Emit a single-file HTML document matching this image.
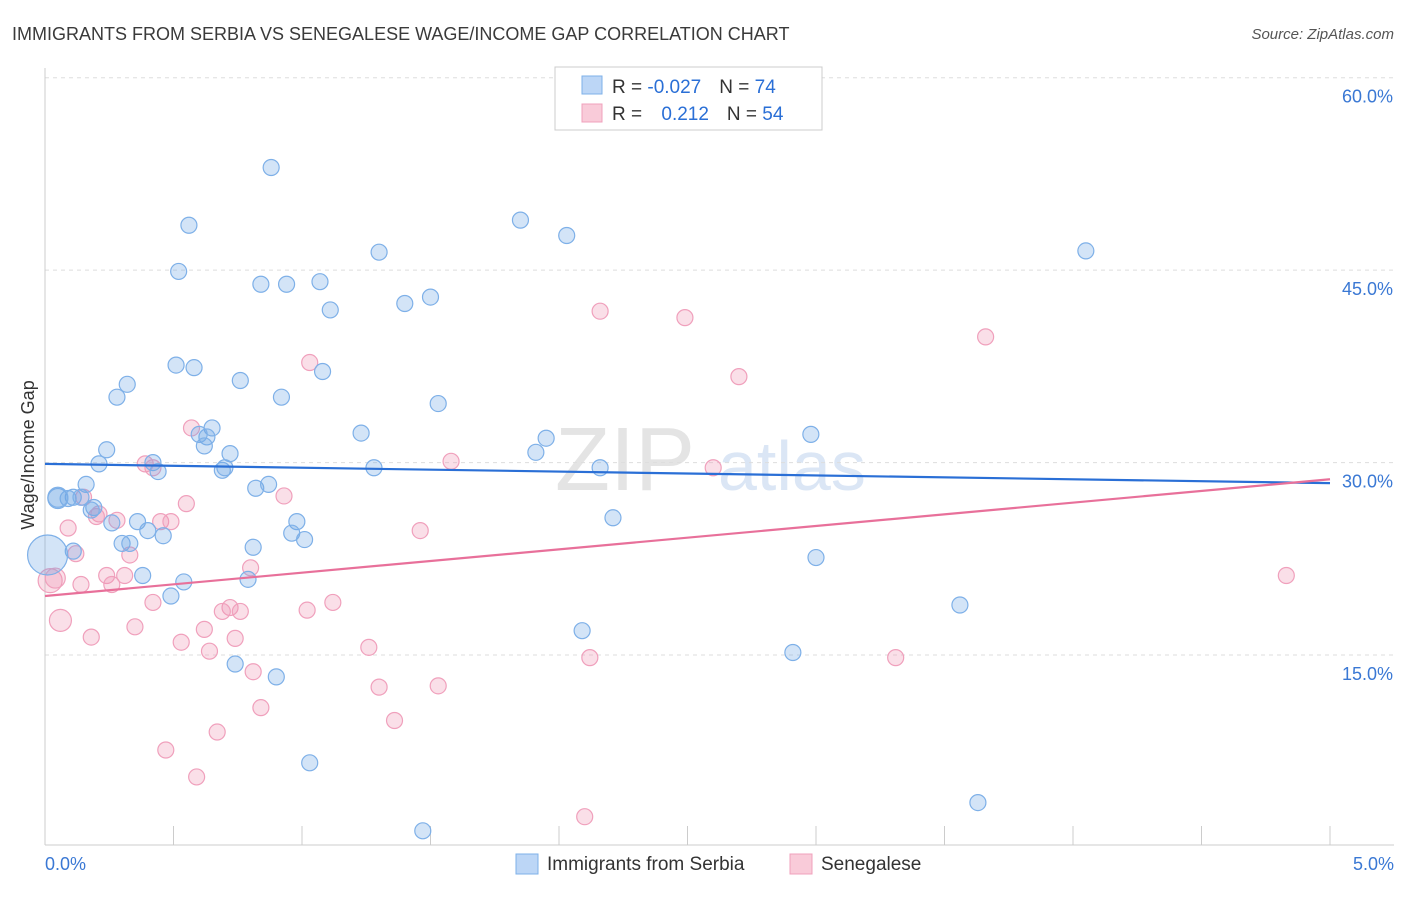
<!DOCTYPE html>
<html><head><meta charset="utf-8"><style>
body{margin:0;background:#fff;font-family:"Liberation Sans",sans-serif;}
svg text{font-family:"Liberation Sans",sans-serif;}
</style></head><body>
<svg width="1406" height="892" viewBox="0 0 1406 892">
<text x="12" y="40" font-size="18" fill="#3a3a3a">IMMIGRANTS FROM SERBIA VS SENEGALESE WAGE/INCOME GAP CORRELATION CHART</text>
<text x="1394" y="39" font-size="15" fill="#555" font-style="italic" text-anchor="end">Source: ZipAtlas.com</text>
<text x="555" y="490" font-size="90" fill="#e4e4e4" font-family="Liberation Serif">ZIP</text>
<text x="718" y="490" font-size="70" fill="#dbe6f5">atlas</text>
<g id="grid"></g>
<g id="axes"></g>
<g id="pts"></g>
<g id="trends"></g>
<text transform="translate(34,455) rotate(-90)" font-size="18" fill="#333" text-anchor="middle">Wage/Income Gap</text>
<g>
<rect x="555" y="67" width="267" height="63" fill="#fff" stroke="#ccc"/>
<rect x="582" y="76" width="20" height="18" fill="#bcd6f6" stroke="#7eb0e8"/>
<rect x="582" y="104" width="20" height="18" fill="#f9cbd9" stroke="#f0a0bc"/>
<text x="612" y="93" font-size="19" fill="#333">R = <tspan fill="#2a6fd6">-0.027</tspan><tspan dx="18">N = </tspan><tspan fill="#2a6fd6">74</tspan></text>
<text x="612" y="120" font-size="19" fill="#333">R = <tspan fill="#2a6fd6" dx="14">0.212</tspan><tspan dx="18">N = </tspan><tspan fill="#2a6fd6">54</tspan></text>
</g>
<g>
<rect x="516" y="854" width="22" height="20" fill="#bcd6f6" stroke="#7eb0e8"/>
<text x="547" y="870" font-size="19" fill="#333">Immigrants from Serbia</text>
<rect x="790" y="854" width="22" height="20" fill="#f9cbd9" stroke="#f0a0bc"/>
<text x="821" y="870" font-size="19" fill="#333">Senegalese</text>
</g>
</svg>
<script>
const xTicks=[0,0.5,1,1.5,2,2.5,3,3.5,4,4.5,5];
const yTicks=[15,30,45,60];
const yTickLabels=["15.0%","30.0%","45.0%","60.0%"];
const xTickLabels=["0.0%","5.0%"];
const serbiaX=[0.88,0.56,0.52,1.85,2.03,1.30,4.05,0.84,0.94,1.07,1.40,1.50,1.11,0.51,0.58,0.32,0.76,1.08,0.28,0.92,1.53,1.23,1.95,2.98,0.24,0.65,0.63,0.60,0.62,0.72,0.21,0.42,0.44,0.69,0.70,1.28,1.91,2.16,0.16,0.11,0.05,0.09,0.14,0.19,0.18,0.82,0.87,0.26,0.36,0.40,0.46,0.30,0.33,0.98,0.96,1.01,2.21,0.11,0.81,3.00,0.38,0.54,0.79,0.49,3.56,2.09,0.74,0.90,2.91,1.03,3.63,1.47,0.01,0.05];
const serbiaY=[53.0,48.5,44.9,48.9,47.7,46.4,46.5,43.9,43.9,44.1,42.4,42.9,41.9,37.6,37.4,36.1,36.4,37.1,35.1,35.1,34.6,32.3,31.9,32.2,31.0,32.7,32.0,32.2,31.3,30.7,29.9,30.0,29.3,29.4,29.6,29.6,30.8,29.6,28.3,27.3,27.2,27.2,27.3,26.5,26.3,28.0,28.3,25.3,25.4,24.7,24.3,23.7,23.7,25.4,24.5,24.0,25.7,23.1,23.4,22.6,21.2,20.7,20.9,19.6,18.9,16.9,14.3,13.3,15.2,6.6,3.5,1.3,22.8,27.3];
const serbiaSize=[8,8,8,8,8,8,8,8,8,8,8,8,8,8,8,8,8,8,8,8,8,8,8,8,8,8,8,8,8,8,8,8,8,8,8,8,8,8,8,8,10,8,8,8,8,8,8,8,8,8,8,8,8,8,8,8,8,8,8,8,8,8,8,8,8,8,8,8,8,8,8,8,20,10];
const senX=[2.16,2.49,3.66,2.70,1.03,0.57,1.58,2.60,0.39,0.42,0.15,0.55,0.93,0.21,0.20,0.28,0.45,0.49,0.09,0.12,0.33,1.46,0.24,0.31,0.26,0.14,0.02,0.04,4.83,0.80,0.42,1.12,1.02,0.72,0.69,0.76,0.06,0.35,0.18,0.62,0.53,0.74,0.64,1.26,2.12,3.31,0.81,1.30,1.53,0.84,1.36,0.67,0.47,0.59,2.10];
const senY=[41.8,41.3,39.8,36.7,37.8,32.7,30.1,29.6,29.9,29.6,27.3,26.8,27.4,26.0,25.8,25.5,25.4,25.4,24.9,22.9,22.8,24.7,21.2,21.2,20.5,20.5,20.8,21.0,21.2,21.8,19.1,19.1,18.5,18.7,18.4,18.4,17.7,17.2,16.4,17.0,16.0,16.3,15.3,15.6,14.8,14.8,13.7,12.5,12.6,10.9,9.9,9.0,7.6,5.5,2.4];
const senSize=[8,8,8,8,8,8,8,8,8,8,8,8,8,8,8,8,8,8,8,8,8,8,8,8,8,8,12,10,8,8,8,8,8,8,8,8,11,8,8,8,8,8,8,8,8,8,8,8,8,8,8,8,8,8,8];
const serbiaTrend=[29.9,28.4];
const senTrend=[19.6,28.7];
const X=v=>45+v/5*1285;
const Y=v=>847.5-v*12.83;
const NS="http://www.w3.org/2000/svg";
function mk(tag,attrs,parent){const e=document.createElementNS(NS,tag);for(const k in attrs)e.setAttribute(k,attrs[k]);parent.appendChild(e);return e;}
const grid=document.getElementById('grid'),axes=document.getElementById('axes'),pts=document.getElementById('pts'),tr=document.getElementById('trends');
yTicks.forEach((t,i)=>{
 const l=mk('line',{x1:45,x2:1394,y1:Y(t),y2:Y(t),stroke:'#ddd','stroke-dasharray':'4,4'},grid);
 
 
 const tx=mk('text',{x:1393,y:Y(t)+25,'font-size':18,fill:'#3a78d4','text-anchor':'end'},axes);
 tx.textContent=yTickLabels[i];
 
 
});
const ax=mk('line',{x1:45,x2:45,y1:68,y2:845,stroke:'#ccc'},axes);


const bx=mk('line',{x1:45,x2:1394,y1:845,y2:845,stroke:'#ccc'},axes);


xTicks.forEach(t=>{
 const l=mk('line',{x1:X(t),x2:X(t),y1:826,y2:845,stroke:'#ccc'},axes);
 
 
});
const xl0=mk('text',{x:45,y:870,'font-size':18,fill:'#3a78d4'},axes);
xl0.textContent=xTickLabels[0];


const xl1=mk('text',{x:1394,y:870,'font-size':18,fill:'#3a78d4','text-anchor':'end'},axes);
xl1.textContent=xTickLabels[1];


senX.forEach((v,i)=>{
 const c=mk('circle',{cx:X(v),cy:Y(senY[i]),r:senSize[i],fill:'rgba(240,150,180,0.3)',stroke:'#f0a0bc','stroke-width':1.2},pts);
 
 
});
serbiaX.forEach((v,i)=>{
 const c=mk('circle',{cx:X(v),cy:Y(serbiaY[i]),r:serbiaSize[i],fill:'rgba(110,165,230,0.3)',stroke:'#7eb0e8','stroke-width':1.2},pts);
 
 
});
const t1=mk('line',{x1:X(0),x2:X(5),y1:Y(serbiaTrend[0]),y2:Y(serbiaTrend[1]),stroke:'#2a6fd6','stroke-width':2.2},tr);


const t2=mk('line',{x1:X(0),x2:X(5),y1:Y(senTrend[0]),y2:Y(senTrend[1]),stroke:'#e8709a','stroke-width':2.2},tr);


</script>
</body></html>
